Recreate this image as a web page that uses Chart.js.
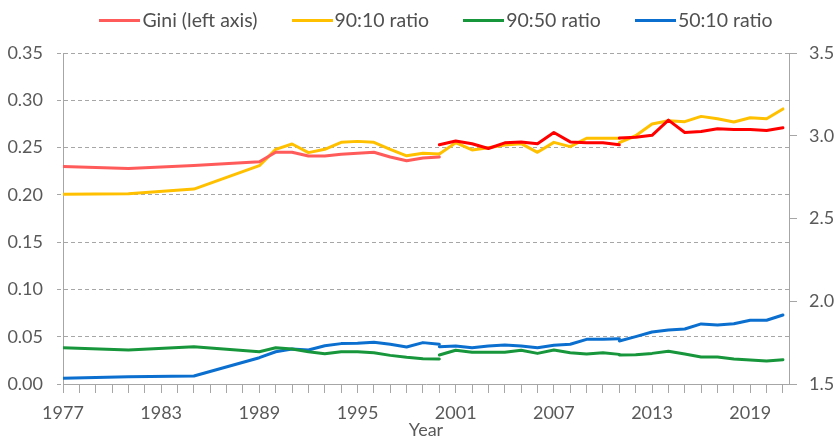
<!DOCTYPE html>
<html>
<head>
<meta charset="utf-8">
<script src="https://cdn.jsdelivr.net/npm/chart.js@4.4.1/dist/chart.umd.min.js"></script>
<style>
  html, body { margin: 0; padding: 0; background: #fff; overflow: hidden; }
  #wrap { position: relative; width: 836px; height: 437px; }
  #legend {
    position: absolute; top: 7px; left: 36px; right: 0;
    display: flex; justify-content: center; gap: 34px;
    font: 19.5px Lato, sans-serif; color: #505050; line-height: 26px;
  }
  #legend .item { display: flex; align-items: center; white-space: nowrap; }
  #legend .swatch { width: 41px; height: 3px; margin-right: 2px; }
</style>
</head>
<body>
<div id="wrap">
  <canvas id="chart"></canvas>
  <div id="legend"></div>
</div>
<script>
// years: early survey is sparse, then annual; breaks in the series at 2000 and 2011
const yearsA = [1977, 1981, 1985, 1989, 1990, 1991, 1992, 1993, 1994, 1995, 1996, 1997, 1998, 1999, 2000];
const yearsB = [2000, 2001, 2002, 2003, 2004, 2005, 2006, 2007, 2008, 2009, 2010, 2011];
const yearsC = [2011, 2012, 2013, 2014, 2015, 2016, 2017, 2018, 2019, 2020, 2021];

// Gini (left axis)
const giniA = [0.230, 0.228, 0.231, 0.235, 0.245, 0.245, 0.241, 0.241, 0.243, 0.244, 0.245, 0.240, 0.236, 0.239, 0.240];
const giniB = [0.253, 0.257, 0.254, 0.249, 0.255, 0.256, 0.254, 0.266, 0.256, 0.255, 0.255, 0.253];
const giniC = [0.260, 0.261, 0.263, 0.279, 0.266, 0.267, 0.270, 0.269, 0.269, 0.268, 0.271];

// 90:10 ratio (right axis)
const r9010A = [2.646, 2.650, 2.678, 2.819, 2.918, 2.950, 2.898, 2.918, 2.960, 2.966, 2.960, 2.918, 2.879, 2.894, 2.890];
const r9010B = [2.890, 2.958, 2.914, 2.928, 2.944, 2.952, 2.900, 2.960, 2.934, 2.985, 2.985, 2.985];
const r9010C = [2.958, 3.000, 3.071, 3.091, 3.085, 3.117, 3.103, 3.083, 3.109, 3.103, 3.162];

// 90:50 ratio (right axis)
const r9050A = [1.719, 1.705, 1.725, 1.695, 1.719, 1.711, 1.695, 1.683, 1.695, 1.695, 1.689, 1.673, 1.661, 1.653, 1.651];
const r9050B = [1.675, 1.704, 1.692, 1.692, 1.692, 1.704, 1.685, 1.705, 1.689, 1.681, 1.689, 1.679];
const r9050C = [1.675, 1.677, 1.685, 1.698, 1.681, 1.663, 1.663, 1.651, 1.645, 1.639, 1.647];

// 50:10 ratio (right axis)
const r5010A = [1.534, 1.544, 1.548, 1.659, 1.695, 1.711, 1.705, 1.731, 1.744, 1.746, 1.752, 1.740, 1.724, 1.750, 1.740];
const r5010B = [1.725, 1.730, 1.719, 1.730, 1.736, 1.730, 1.719, 1.734, 1.740, 1.770, 1.770, 1.774];
const r5010C = [1.760, 1.786, 1.814, 1.826, 1.832, 1.863, 1.856, 1.864, 1.885, 1.885, 1.917];

const xTickYears = [1977, 1983, 1989, 1995, 2001, 2007, 2013, 2019];

const GRID = "#a6a6a6";
const TEXT = "#595959";
const FONT = "Lato, sans-serif";

function pts(xs, ys) {
  return xs.map((x, i) => ({ x: x, y: ys[i] }));
}

function line(label, color, xs, ys, axis, inLegend) {
  return {
    label: label,
    data: pts(xs, ys),
    borderColor: color,
    backgroundColor: color,
    borderWidth: 3,
    borderCapStyle: "round",
    borderJoinStyle: "round",
    pointRadius: 0,
    tension: 0,
    fill: false,
    yAxisID: axis,
    inLegend: inLegend,
  };
}

const datasets = [
  line("Gini (left axis)", "#ff5b5b", yearsA, giniA, "y", true),
  line("Gini (left axis)", "#ff0000", yearsB, giniB, "y", false),
  line("Gini (left axis)", "#ff0000", yearsC, giniC, "y", false),
  line("90:10 ratio", "#ffc000", yearsA, r9010A, "y2", true),
  line("90:10 ratio", "#ffc000", yearsB, r9010B, "y2", false),
  line("90:10 ratio", "#ffc000", yearsC, r9010C, "y2", false),
  line("90:50 ratio", "#17963c", yearsA, r9050A, "y2", true),
  line("90:50 ratio", "#17963c", yearsB, r9050B, "y2", false),
  line("90:50 ratio", "#17963c", yearsC, r9050C, "y2", false),
  line("50:10 ratio", "#0b6fcf", yearsA, r5010A, "y2", true),
  line("50:10 ratio", "#0b6fcf", yearsB, r5010B, "y2", false),
  line("50:10 ratio", "#0b6fcf", yearsC, r5010C, "y2", false),
];

// html legend, one entry per series (first segment only)
const htmlLegend = {
  id: "htmlLegend",
  afterUpdate(chart) {
    const box = document.getElementById("legend");
    box.innerHTML = "";
    const items = chart.options.plugins.legend.labels.generateLabels(chart)
      .filter(it => chart.data.datasets[it.datasetIndex].inLegend);
    items.forEach(it => {
      const el = document.createElement("div");
      el.className = "item";
      const sw = document.createElement("span");
      sw.className = "swatch";
      sw.style.background = it.strokeStyle;
      const tx = document.createElement("span");
      tx.textContent = it.text;
      el.appendChild(sw);
      el.appendChild(tx);
      box.appendChild(el);
    });
  },
};

Chart.defaults.font.family = FONT;

new Chart(document.getElementById("chart"), {
  type: "line",
  data: { datasets: datasets },
  options: {
    responsive: true,
    maintainAspectRatio: false,
    animation: false,
    layout: { padding: { top: 53, left: 0, right: 0, bottom: 0 } },
    plugins: {
      legend: { display: false },
      tooltip: { enabled: false },
    },
    scales: {
      x: {
        type: "linear",
        min: 1977,
        max: 2021.37,
        afterFit: s => { s.height = 53; },
        ticks: {
          stepSize: 1,
          includeBounds: false,
          autoSkip: false,
          maxRotation: 0,
          padding: 9,
          color: TEXT,
          font: { size: 18 },
          callback: v => (xTickYears.includes(v) ? String(v) : ""),
        },
        grid: { drawOnChartArea: false, tickLength: 9, color: GRID },
        border: { color: GRID, width: 1 },
        title: {
          display: true,
          text: "Year",
          color: TEXT,
          font: { size: 18 },
          padding: { top: 0, bottom: -4 },
        },
      },
      y: {
        position: "left",
        min: 0,
        max: 0.35,
        afterFit: s => { s.width = 63; },
        ticks: {
          stepSize: 0.05,
          padding: 14,
          color: TEXT,
          font: { size: 18 },
          callback: v => v.toFixed(2),
        },
        grid: { color: GRID, tickLength: 6, tickBorderDash: [4, 3] },
        border: { color: GRID, width: 1, dash: [4, 3] },
      },
      y2: {
        position: "right",
        min: 1.5,
        max: 3.5,
        afterFit: s => { s.width = 47; },
        ticks: {
          stepSize: 0.5,
          padding: 12,
          color: TEXT,
          font: { size: 18 },
          callback: v => v.toFixed(1),
        },
        grid: { drawOnChartArea: false, tickLength: 8, color: GRID },
        border: { color: GRID, width: 1 },
      },
    },
  },
  plugins: [htmlLegend],
});
</script>
</body>
</html>
